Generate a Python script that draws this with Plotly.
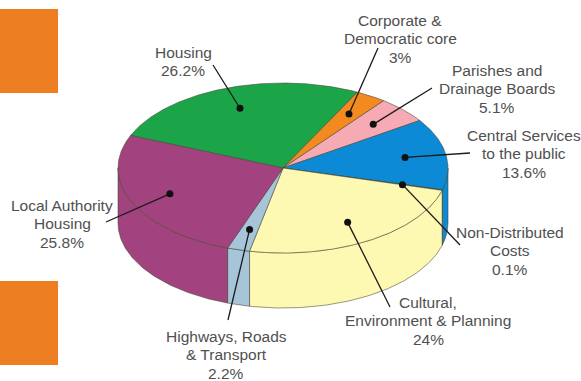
import numpy as np
import plotly.graph_objects as go

# ---- data ----
categories = ["Housing", "Corporate &\nDemocratic core", "Parishes and\nDrainage Boards",
              "Central Services\nto the public", "Non-Distributed\nCosts",
              "Cultural,\nEnvironment & Planning", "Highways, Roads\n& Transport",
              "Local Authority\nHousing"]
values = [26.2, 3, 5.1, 13.6, 0.1, 24, 2.2, 25.8]
colors = ["#1ba548", "#f28a1f", "#f5aab4", "#0c8ad5", "#3a5f8a", "#fdf8b2", "#a7c5d8", "#a2427f"]

# ---- layout / geometry (styling) ----
W, H = 581, 381
cx, cy, rx, ry, depth = 283, 168, 165, 85, 55
start_angle = 157.5
label_pos = [(183, 52), (400, 20), (497, 70), (524, 135), (510, 232), (428, 302), (226, 336), (62, 205)]
line_end = [(213, 65), (378, 48), (432, 88), (470, 153), (460, 245), (390, 307), (228, 320), (106, 222)]
dot_r = 0.75
line_h = 18.5
edge = dict(color="rgba(70,70,50,0.7)", width=0.8)

def pt(a, r=1.0, dy=0.0):
    t = np.radians(a)
    return cx + r * rx * np.cos(t), cy - r * ry * np.sin(t) + dy

fig = go.Figure()

total = sum(values)
angles = []
a = start_angle
for v in values:
    e = a - 360 * v / total
    angles.append((a, e))
    a = e

# side faces (front half only)
for (s, e), col in zip(angles, colors):
    lo, hi = e, s
    for k in (-1, 0, 1):
        f0, f1 = -180 + 360 * k, 360 * k
        a0, a1 = max(lo, f0), min(hi, f1)
        if a1 > a0:
            ts = np.linspace(a0, a1, 80)
            xt, yt = pt(ts)
            xb, yb = pt(ts[::-1], dy=depth)
            xs = np.concatenate([xt, xb, xt[:1]])
            ys = np.concatenate([yt, yb, yt[:1]])
            fig.add_trace(go.Scatter(x=xs, y=ys, mode="lines", fill="toself",
                                     fillcolor=col, line=edge, hoverinfo="skip",
                                     showlegend=False))

# top faces
for (s, e), col in zip(angles, colors):
    n = max(4, int(abs(s - e) * 2))
    ts = np.linspace(s, e, n)
    xa, ya = pt(ts)
    xs = np.concatenate([[cx], xa, [cx]])
    ys = np.concatenate([[cy], ya, [cy]])
    fig.add_trace(go.Scatter(x=xs, y=ys, mode="lines", fill="toself",
                             fillcolor=col, line=edge, hoverinfo="skip",
                             showlegend=False))

# leader lines and dots
annotations = []
for i, ((s, e), cat, v) in enumerate(zip(angles, categories, values)):
    mid = (s + e) / 2
    dx, dy = pt(mid, dot_r)
    lx, ly = line_end[i]
    fig.add_trace(go.Scatter(x=[lx, dx], y=[ly, dy], mode="lines",
                             line=dict(color="#1a1a1a", width=1.3),
                             hoverinfo="skip", showlegend=False))
    fig.add_trace(go.Scatter(x=[dx], y=[dy], mode="markers",
                             marker=dict(color="#111111", size=7),
                             hoverinfo="skip", showlegend=False))
    lines = cat.split("\n") + [f"{v:g}%"]
    tx, ty = label_pos[i]
    for j, t in enumerate(lines):
        annotations.append(dict(x=tx, y=ty + j * line_h, text=t, showarrow=False,
                                xanchor="center", yanchor="middle",
                                font=dict(family="Liberation Sans, Arial", size=15.5,
                                          color="#505050")))

shapes = [
    dict(type="rect", xref="x", yref="y", x0=0, x1=58, y0=9, y1=93,
         fillcolor="#ed7f22", line=dict(width=0), layer="below"),
    dict(type="rect", xref="x", yref="y", x0=0, x1=58, y0=281, y1=365,
         fillcolor="#ed7f22", line=dict(width=0), layer="below"),
]

fig.update_layout(
    width=W, height=H, margin=dict(l=0, r=0, t=0, b=0),
    paper_bgcolor="white", plot_bgcolor="white",
    xaxis=dict(range=[0, W], visible=False, fixedrange=True),
    yaxis=dict(range=[H, 0], visible=False, fixedrange=True),
    annotations=annotations, shapes=shapes,
)

fig.write_html("out.html")
